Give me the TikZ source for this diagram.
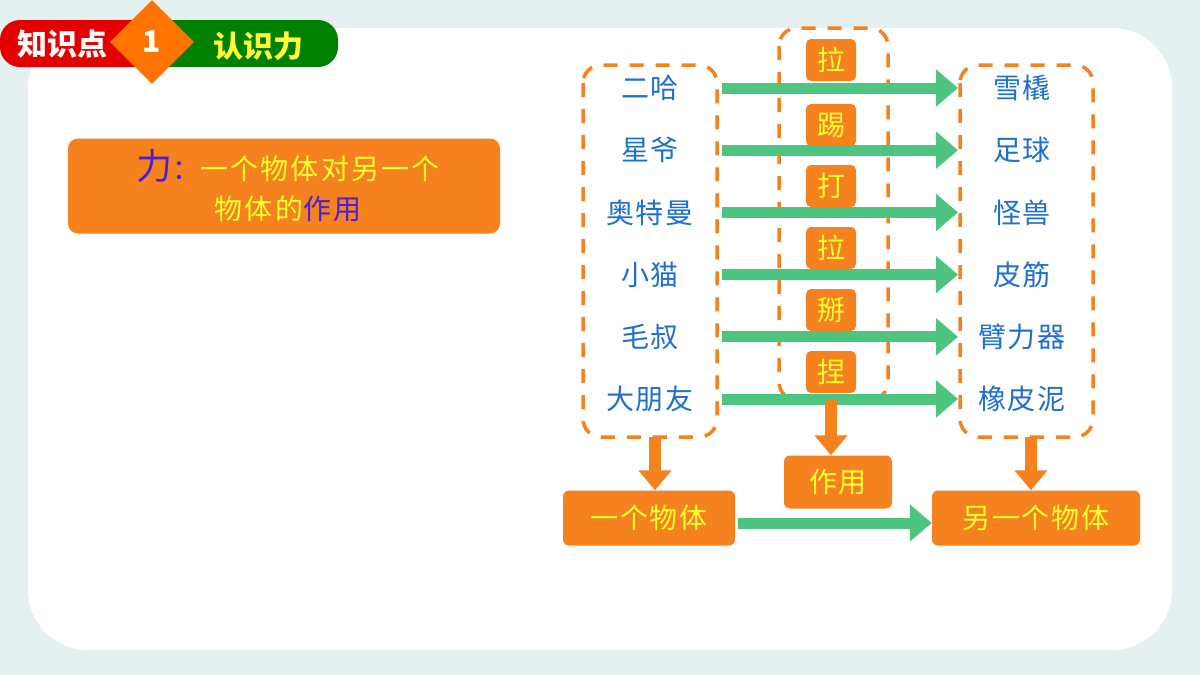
\documentclass[tikz,border=0pt]{standalone}
\usepackage{fontspec}
\setmainfont{Noto Sans CJK SC}
\usetikzlibrary{arrows.meta,shapes.geometric}
\definecolor{bor}{HTML}{F5821F}
\definecolor{gar}{HTML}{4DC47F}
\definecolor{bl}{HTML}{1E6FD0}
\definecolor{yl}{HTML}{FFFF33}
\definecolor{pu}{HTML}{4B1FD6}
\begin{document}
\begin{tikzpicture}[x=1pt,y=-1pt,
 dbox/.style={draw=bor,line width=3.5pt,dash pattern=on 14pt off 12pt,rounded corners=18pt},
 lab/.style={text=bl,font=\fontsize{28}{30}\selectfont\addfontfeatures{LetterSpace=6}},
 verb/.style={fill=bor,rounded corners=5pt,minimum width=50pt,minimum height=42pt,inner sep=1pt,text=yl,font=\fontsize{28}{30}\selectfont},
 obox/.style={fill=bor,rounded corners=6pt,text=yl,font=\fontsize{28}{30}\selectfont\addfontfeatures{LetterSpace=6}},
 garr/.style={draw=gar,line width=11pt,-{Triangle[length=22pt,width=36pt]}},
 oarr/.style={draw=bor,line width=12pt,-{Triangle[length=20pt,width=32pt]}}]
\useasboundingbox (0,0) rectangle (1200,675);
\fill[fill={rgb,255:red,228;green,241;blue,240}] (0,0) rectangle (1200,675);
\fill[white,rounded corners=60pt] (28,28) rectangle (1172,650);
% header
\fill[red!90!black,rounded corners=20pt] (0,20) rectangle (170,67);
\fill[green!50!black,rounded corners=20pt] (130,20) rectangle (338,67);
\node[diamond,fill=orange!90!red,minimum width=84pt,minimum height=84pt,inner sep=0,text=white,font=\bfseries\fontsize{30}{32}\selectfont] (num) at (152,42) {1};
\node[text=white,font=\bfseries\fontsize{30}{32}\selectfont] (kp) at (62,44) {知识点};
\node[text=yl,font=\bfseries\fontsize{30}{32}\selectfont] (rs) at (258,46) {认识力};
% definition
\node[fill=bor,rounded corners=10pt,minimum width=432pt,minimum height=95pt] (def) at (284,186) {};
\node[font=\fontsize{28}{40}\selectfont\addfontfeatures{LetterSpace=8},align=center,text=yl] (dt) at (288,186) {{\color{pu}\fontsize{36}{36}\selectfont 力}{\color{pu}：}一个物体对另一个\\物体的{\color{pu}作用}};
% dashed boxes
\draw[dbox] (583,65) rectangle (717,437);
\draw[dbox] (779,28) rectangle (888,400);
\draw[dbox] (960,65) rectangle (1093,437);
\foreach \i/\a/\b/\v/\vy in {1/二哈/雪橇/拉/60,2/星爷/足球/踢/125,3/奥特曼/怪兽/打/186,4/小猫/皮筋/拉/248,5/毛叔/臂力器/掰/310,6/大朋友/橡皮泥/捏/372}{
 \pgfmathsetmacro\yy{88+62.2*(\i-1)}
 \node[lab] (l\i) at (650,\yy) {\a};
 \node[lab] (r\i) at (1022,\yy) {\b};
 \coordinate (s\i) at (722,\yy);
 \coordinate (e\i) at (958,\yy);
 \draw[garr] (s\i) -- (e\i);
 \node[verb] (v\i) at (831,\vy) {\v};
}
% bottom
\node[obox,minimum width=172pt,minimum height=55pt] (a) at (649,518) {一个物体};
\node[obox,minimum width=108pt,minimum height=53pt] (zy) at (838,482) {作用};
\node[obox,minimum width=208pt,minimum height=55pt] (b) at (1036,518) {另一个物体};
\coordinate (d1) at (655,437); \coordinate (d2) at (831,400); \coordinate (d3) at (1031,437);
\draw[oarr] (d1) -- (a.north -| d1);
\draw[oarr] (d2) -- (zy.north -| d2);
\draw[oarr] (d3) -- (b.north -| d3);
\draw[garr] (a.east) ++(3,5) coordinate (ga) -- (ga -| b.west);
\end{tikzpicture}
\end{document}
